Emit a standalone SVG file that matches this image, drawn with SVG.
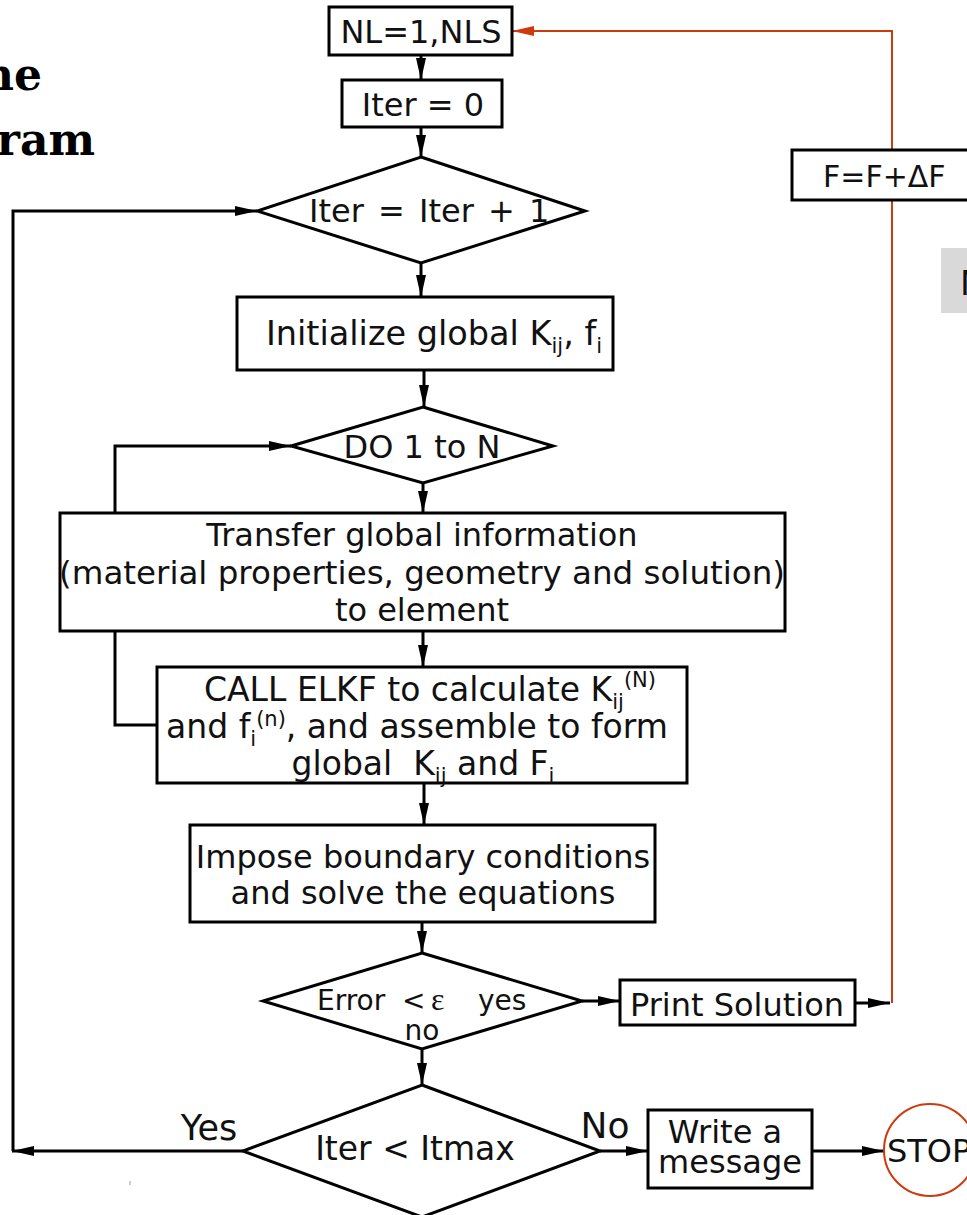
<svg xmlns="http://www.w3.org/2000/svg" width="967" height="1215" viewBox="0 0 967 1215">
<defs>
<style>
.n{fill:#fff;stroke:#000;stroke-width:3}
.c{fill:none;stroke:#000;stroke-width:3}
.r{fill:none;stroke:#cc3a0e;stroke-width:2}
.t{font-family:"DejaVu Sans","Liberation Sans",sans-serif;font-size:32px;fill:#111;text-anchor:middle;white-space:pre}
.s{font-size:21px}
.ttl{font-family:"DejaVu Serif","Liberation Serif",serif;font-weight:bold;font-size:44px;fill:#000;text-anchor:end}
</style>
<marker id="ah" markerUnits="userSpaceOnUse" markerWidth="24" markerHeight="12" refX="22" refY="6" orient="auto"><path d="M0,1 L22,6 L0,11 Z" fill="#000"/></marker>
<marker id="ahr" markerUnits="userSpaceOnUse" markerWidth="24" markerHeight="12" refX="22" refY="6" orient="auto"><path d="M0,1 L22,6 L0,11 Z" fill="#cc3a0e"/></marker>
</defs>
<rect width="967" height="1215" fill="#fff"/>

<g id="title">
<text class="ttl" x="42" y="90">he</text>
<text class="ttl" x="95" y="155">ram</text>
</g>

<g id="connectors">
<path class="c" d="M421,55 V80" marker-end="url(#ah)"/>
<path class="c" d="M421,127 V157" marker-end="url(#ah)"/>
<path class="c" d="M421,263 V297" marker-end="url(#ah)"/>
<path class="c" d="M424,370 V407" marker-end="url(#ah)"/>
<path class="c" d="M423,483 V513" marker-end="url(#ah)"/>
<path class="c" d="M423,631 V667" marker-end="url(#ah)"/>
<path class="c" d="M424,783 V825" marker-end="url(#ah)"/>
<path class="c" d="M422,922 V953" marker-end="url(#ah)"/>
<path class="c" d="M582,1001 H620" marker-end="url(#ah)"/>
<path class="c" d="M422,1049 V1085" marker-end="url(#ah)"/>
<path class="c" d="M600,1151 H648" marker-end="url(#ah)"/>
<path class="c" d="M812,1151 H884" marker-end="url(#ah)"/>
<path class="c" d="M243,1151 H12" marker-end="url(#ah)"/>
<path class="c" d="M13,1151 V211 H257" marker-end="url(#ah)"/>
<path class="c" d="M157,725 H115 V446 H291" marker-end="url(#ah)"/>
<path class="c" d="M855,1003 H890" marker-end="url(#ah)"/>
<path class="r" d="M892,1003 V31 H512" marker-end="url(#ahr)"/>
<path d="M130,1181 V1185" stroke="#999" stroke-width="1"/>
</g>

<g id="n-nl">
<rect class="n" x="329" y="7" width="183" height="48"/>
<text class="t" x="421" y="43">NL=1,NLS</text>
</g>
<g id="n-iter0">
<rect class="n" x="342" y="80" width="160" height="47"/>
<text class="t" x="423" y="116">Iter = 0</text>
</g>
<g id="n-iterinc">
<polygon class="n" points="421,157 585,211 421,263 257,211"/>
<text class="t" x="309" y="222" style="text-anchor:start;word-spacing:4px">Iter = Iter + 1</text>
</g>
<g id="n-init">
<rect class="n" x="237" y="297" width="376" height="73"/>
<text class="t" x="434" y="345" style="font-size:33.5px">Initialize global K<tspan class="s" dy="8">ij</tspan><tspan dy="-8">, f</tspan><tspan class="s" dy="8">i</tspan></text>
</g>
<g id="n-do">
<polygon class="n" points="423,407 553,446 423,483 291,446"/>
<text class="t" x="422" y="458">DO 1 to N</text>
</g>
<g id="n-transfer">
<rect class="n" x="60" y="513" width="725" height="118"/>
<text class="t" x="422" y="546">Transfer global information</text>
<text class="t" x="422" y="584" style="font-size:32.5px">(material properties, geometry and solution)</text>
<text class="t" x="422" y="621">to element</text>
</g>
<g id="n-call">
<rect class="n" x="157" y="667" width="530" height="116"/>
<text class="t" x="430" y="701" style="font-size:33px">CALL ELKF to calculate K<tspan class="s" dy="8">ij</tspan><tspan class="s" dy="-22">(N)</tspan></text>
<text class="t" x="417" y="738" style="font-size:33px">and f<tspan class="s" dy="8">i</tspan><tspan class="s" dy="-20">(n)</tspan><tspan dy="12">, and assemble to form</tspan></text>
<text class="t" x="423" y="775" style="font-size:33px">global  K<tspan class="s" dy="8">ij</tspan><tspan dy="-8"> and F</tspan><tspan class="s" dy="8">i</tspan></text>
</g>
<g id="n-impose">
<rect class="n" x="190" y="825" width="465" height="97"/>
<text class="t" x="423" y="868">Impose boundary conditions</text>
<text class="t" x="423" y="904">and solve the equations</text>
</g>
<g id="n-error">
<polygon class="n" points="422,953 582,1001 422,1049 263,1001"/>
<text class="t" y="1010" style="font-size:28px;text-anchor:start"><tspan x="317">Error</tspan><tspan x="402">&lt;</tspan><tspan x="431" style="font-family:'Liberation Serif',serif;font-size:32px">ε</tspan><tspan x="478">yes</tspan></text>
<text class="t" x="422" y="1040" style="font-size:28px">no</text>
</g>
<g id="n-print">
<rect class="n" x="620" y="980" width="235" height="45"/>
<text class="t" x="737" y="1016">Print Solution</text>
</g>
<g id="n-itmax">
<polygon class="n" points="422,1085 600,1151 422,1217 243,1151"/>
<text class="t" x="415" y="1160" style="font-size:33px">Iter &lt; Itmax</text>
<text class="t" x="209" y="1140" style="font-size:35px">Yes</text>
<text class="t" x="605" y="1138" style="font-size:36px">No</text>
</g>
<g id="n-write">
<rect class="n" x="648" y="1110" width="164" height="78"/>
<text class="t" x="725" y="1143">Write a</text>
<text class="t" x="730" y="1173">message</text>
</g>
<g id="n-stop">
<ellipse cx="930" cy="1150" rx="46" ry="46" fill="#fff" stroke="#cc3a0e" stroke-width="2"/>
<text class="t" x="887" y="1162" style="text-anchor:start">STOP</text>
</g>
<g id="n-f">
<rect class="n" x="792" y="150" width="190" height="50"/>
<text class="t" x="823" y="187" style="text-anchor:start;font-size:30px">F=F+ΔF</text>
</g>
<g id="n-gray">
<rect x="941" y="248" width="40" height="65" fill="#d9d9d9"/>
<text class="t" x="960" y="295" style="text-anchor:start;font-size:34px">N</text>
</g>
</svg>
